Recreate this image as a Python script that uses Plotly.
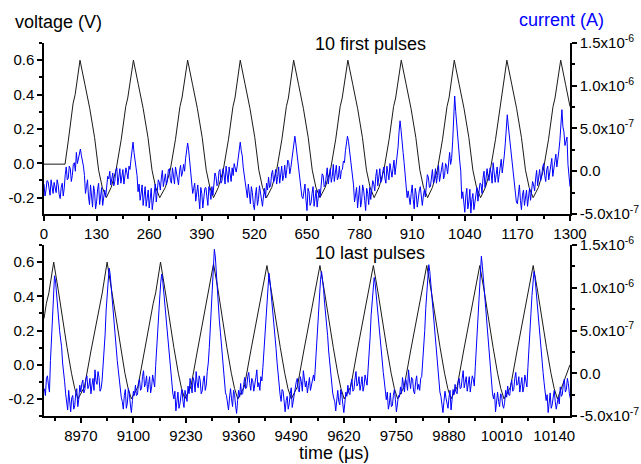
import numpy as np
import plotly.graph_objects as go

# ---------------- data ----------------
# Voltage, first 10 pulses: vertices (time in us, volts)
top_v_time = [0, 52, 60, 72, 77, 89,
              101, 113, 125, 135, 144, 154,
              166, 178, 191, 202, 207, 221,
              233, 245, 257, 267, 276, 286,
              300, 312, 325, 336, 341, 355,
              367, 379, 391, 401, 410, 419,
              431, 443, 456, 467, 472, 485,
              497, 509, 521, 531, 540, 550,
              563, 575, 588, 599, 604, 617,
              629, 641, 653, 663, 672, 682,
              695, 708, 721, 732, 737, 751,
              763, 775, 787, 797, 806, 816,
              828, 840, 853, 864, 869, 883,
              895, 907, 919, 929, 938, 948,
              960, 972, 985, 996, 1001, 1014,
              1026, 1038, 1050, 1060, 1069, 1079,
              1091, 1103, 1116, 1127, 1131, 1144,
              1156, 1168, 1180, 1190, 1199, 1209,
              1222, 1234, 1247, 1258, 1263, 1277,
              1289, 1300]
top_v_volt = [-0.005, -0.005, 0.13, 0.35, 0.40, 0.60,
              0.46, 0.32, 0.15, -0.04, -0.14, -0.20,
              -0.14, -0.04, 0.14, 0.33, 0.38, 0.60,
              0.46, 0.32, 0.15, -0.04, -0.14, -0.20,
              -0.14, -0.04, 0.14, 0.33, 0.38, 0.60,
              0.46, 0.32, 0.15, -0.04, -0.14, -0.20,
              -0.14, -0.04, 0.14, 0.33, 0.38, 0.60,
              0.46, 0.32, 0.15, -0.04, -0.14, -0.20,
              -0.14, -0.04, 0.14, 0.33, 0.38, 0.60,
              0.46, 0.32, 0.15, -0.04, -0.14, -0.20,
              -0.14, -0.04, 0.14, 0.33, 0.38, 0.60,
              0.46, 0.32, 0.15, -0.04, -0.14, -0.20,
              -0.14, -0.04, 0.14, 0.33, 0.38, 0.60,
              0.46, 0.32, 0.15, -0.04, -0.14, -0.20,
              -0.14, -0.04, 0.14, 0.33, 0.38, 0.60,
              0.46, 0.32, 0.15, -0.04, -0.14, -0.20,
              -0.14, -0.04, 0.14, 0.33, 0.38, 0.60,
              0.46, 0.32, 0.15, -0.04, -0.14, -0.20,
              -0.14, -0.04, 0.14, 0.33, 0.38, 0.60,
              0.46, 0.33]

# Voltage, last 10 pulses
bot_v_time = [8879, 8885, 8891, 8903,
              8914, 8926, 8936, 8947, 8955, 8963,
              8979, 8995, 9007, 9017, 9023, 9035,
              9046, 9058, 9068, 9079, 9087, 9095,
              9111, 9127, 9139, 9149, 9155, 9167,
              9178, 9190, 9200, 9211, 9219, 9227,
              9242, 9258, 9270, 9280, 9286, 9298,
              9309, 9321, 9331, 9342, 9350, 9358,
              9374, 9390, 9402, 9412, 9418, 9430,
              9441, 9453, 9463, 9474, 9482, 9490,
              9505, 9521, 9533, 9543, 9549, 9561,
              9572, 9584, 9594, 9605, 9613, 9621,
              9637, 9653, 9665, 9675, 9681, 9693,
              9704, 9716, 9726, 9737, 9745, 9753,
              9769, 9785, 9797, 9807, 9813, 9825,
              9836, 9848, 9858, 9869, 9877, 9885,
              9900, 9916, 9928, 9938, 9944, 9956,
              9967, 9979, 9989, 10000, 10008, 10016,
              10032, 10048, 10060, 10070, 10076, 10088,
              10099, 10111, 10121, 10132, 10140, 10148,
              10164, 10179]
bot_v_volt = [0.27, 0.36, 0.42, 0.60,
              0.44, 0.24, 0.10, -0.05, -0.14, -0.20,
              -0.13, 0.08, 0.23, 0.36, 0.42, 0.60,
              0.44, 0.24, 0.10, -0.05, -0.14, -0.20,
              -0.13, 0.08, 0.23, 0.36, 0.42, 0.60,
              0.44, 0.24, 0.10, -0.05, -0.14, -0.20,
              -0.13, 0.08, 0.23, 0.36, 0.42, 0.59,
              0.44, 0.24, 0.10, -0.05, -0.14, -0.20,
              -0.13, 0.08, 0.23, 0.36, 0.42, 0.58,
              0.43, 0.24, 0.10, -0.05, -0.14, -0.20,
              -0.13, 0.08, 0.23, 0.36, 0.42, 0.58,
              0.43, 0.24, 0.10, -0.05, -0.14, -0.20,
              -0.13, 0.08, 0.23, 0.36, 0.42, 0.58,
              0.43, 0.24, 0.10, -0.05, -0.14, -0.20,
              -0.13, 0.08, 0.23, 0.36, 0.42, 0.58,
              0.43, 0.24, 0.10, -0.05, -0.14, -0.20,
              -0.13, 0.08, 0.23, 0.36, 0.42, 0.58,
              0.43, 0.24, 0.10, -0.05, -0.14, -0.20,
              -0.13, 0.08, 0.23, 0.36, 0.42, 0.58,
              0.43, 0.24, 0.10, -0.05, -0.14, -0.20,
              -0.10, 0.00]

# Current, first 10 pulses (units of 1e-7 A).
# Samples every 5 us from t = 0 ...
top_i_t0 = 0
top_i_dt = 5
top_current_e7 = [
    -1.5, -2.2, -1.2, -2.8, -1.8, -1.3, -2.5, -1.6, -3.2, -1.4, -2.0,
    0.5, -0.8, 0.3, -0.5, 1.0, 2.2, 1.5,
    2.6,
    1.2, -0.5, -1.8,
    -3.0, -1.6, -4.2, -2.4, -3.6, -1.4, -2.8, -4.0,
    -2.2, -1.7,
    -0.9, -1.6, -0.2, -1.2, 0.4, -0.8, -1.4, 0.2, -0.6,
    -0.2, 0.6, 1.4,
    3.4,
    1.5, -0.5, -1.5,
    -2.6, -4.0, -1.8, -3.2, -4.3, -2.0, -3.5, -1.5,
    -2.4, -1.3,
    -0.8, -1.8, -0.3, -1.0, 0.3, -1.4, -0.5, 0.5, -0.9,
    0.0, -0.6, 0.8, 1.5,
    3.3,
    1.2, -0.8, -2.0,
    -3.5, -1.6, -4.4, -2.6, -3.1, -1.9, -4.0, -2.3,
    -1.8, -1.2,
    -0.6, -1.5, 0.2, -1.1, -0.4, 0.6, -1.3, -0.2, 0.4,
    0.9, -0.1, 1.6,
    3.4,
    1.8, -0.6, -2.2,
    -1.5, -3.8, -2.5, -4.5, -1.9, -3.3, -2.7, -4.1,
    -2.0, -1.4,
    -0.7, -1.7, 0.1, -0.9, -1.5, 0.5, -0.4, -1.1, 0.7,
    0.2, 1.0, 0.4, 2.0,
    4.1,
    2.2, 0.0, -1.8,
    -3.2, -1.5, -4.6, -2.4, -3.7, -1.8, -2.9, -4.2,
    -2.1, -1.3,
    -0.5, -1.6, 0.4, -0.8, -1.3, 0.8, -0.2, -1.0, 0.6,
    0.1, 1.2, 2.4,
    4.1,
    2.5, 0.2, -1.6,
    -2.8, -4.3, -1.7, -3.5, -2.2, -4.6, -2.6, -1.9,
    -2.4, -1.5,
    -0.6, -1.7, 0.3, -1.0, 0.5, -1.4, -0.1, 0.9, -0.7,
    1.3, 0.5, 2.8,
    5.9,
    3.8, 1.0, -1.2,
    -2.3, -3.9, -1.6, -4.4, -2.7, -3.1, -1.8, -4.0,
    -2.2, -1.5,
    -0.7, -1.8, 0.2, -0.9, -1.4, 0.7, -0.3, 1.0, -0.5,
    0.6, 1.6, 0.8, 3.5,
    8.8,
    5.5, 2.5, 0.0,
    -2.4, -4.8, -2.0, -3.6, -4.9, -2.6, -3.4, -1.9,
    -2.6, -1.5,
    -0.8, -1.9, 0.3, -1.1, -0.2, 1.0, -1.3, 0.5, -0.4,
    1.4, 0.6, 3.2,
    6.6,
    4.2, 1.8, -0.8,
    -2.5, -3.8, -1.6, -4.5, -2.2, -3.3, -4.1, -2.0,
    -2.4, -1.6,
    -0.9, -1.7, 0.2, -0.6, 0.9, -1.2, 0.6, -0.3, 1.5,
    0.4, 2.0, 1.2, 3.6,
    7.2,
    4.6, 3.5, 0.8, -1.8,
]
# ... and the samples lying half-way between them (t = 2.5, 7.5, ...)
top_current_mid_e7 = [
    -2.9, -1.1, -2.4, -1.0, -2.6, -1.9, -1.0, -2.7, -1.9, -2.9,
    -0.4,
    -1.0, 0.6, -1.2, 0.8, 0.0, 0.9, 2.4,
    1.8,
    0.6, -2.6, -1.0,
    -3.9, -2.9, -1.7, -4.4, -2.1, -3.9, -1.9,
    -2.8,
    -3.0, -0.6,
    0.0, -0.5, -1.7, 0.1, -1.6, 0.3, -0.3, -1.5,
    0.4,
    -0.9, 0.2,
    2.5,
    2.2,
    0.4, -2.4,
    -3.4,
    -1.6, -3.0, -4.1, -2.2, -2.9, -4.5, -2.6,
    -3.6,
    -1.0, -2.2,
    0.1, -0.7, -1.6, 0.2, -1.1, 0.4, -1.5, -0.2,
    -1.6,
    0.7, -0.1, 0.0,
    2.4,
    2.5,
    0.0, -2.6,
    -1.4,
    -2.6, -3.1, -1.9, -4.3, -2.0, -3.4, -1.8,
    -3.3,
    -2.8, -0.2,
    -1.7, 0.0, -1.4, 0.3, -1.5, -0.6, 0.5, -1.2,
    -0.5,
    0.1, 0.6,
    2.7,
    2.4,
    0.4, -1.6,
    -3.1,
    -2.9, -1.8, -3.9, -2.8, -4.0, -1.7, -3.3,
    -2.9,
    -3.1, -2.2,
    -1.9, -0.3, -1.3, 0.2, -0.6, -1.4, 0.6, -0.5,
    -0.8,
    1.3, -0.3, 1.2,
    3.0,
    3.2,
    0.9, -1.0,
    -3.0,
    -2.1, -3.4, -2.0, -4.0, -2.6, -4.1, -2.2,
    -2.9,
    -3.0, -0.3,
    -1.8, -0.4, -1.5, 0.3, -0.6, -1.2, 0.7, -0.7,
    -0.9,
    0.2, 1.0,
    3.4,
    3.5,
    0.8, -0.8,
    -3.6,
    -1.9, -3.0, -4.2, -1.6, -3.4, -2.0, -3.9,
    -3.3,
    -1.1, -2.3,
    0.2, -0.6, -1.3, 0.0, -0.8, 0.6, -1.0, -0.2,
    0.3,
    -0.4, 1.5,
    4.6,
    4.8,
    2.2, -0.4,
    -3.1,
    -3.2, -2.6, -3.3, -2.0, -4.2, -2.3, -3.0,
    -2.9,
    -3.0, -0.4,
    -1.9, -0.5, -1.4, 0.3, -0.5, -1.2, 0.5, -0.9,
    0.9,
    -0.3, 2.2, 1.5,
    6.5,
    7.0,
    3.2, 1.2,
    -3.2,
    -3.5, -2.9, -4.4, -2.1, -3.3, -4.5, -2.4,
    -3.5,
    -1.4, -2.6,
    0.0, -1.0, -0.7, 0.4, -1.4, -0.1, -0.4, -1.3,
    0.6,
    -0.2, 1.8,
    5.0,
    5.3,
    2.9, 0.5,
    -1.6,
    -3.6, -2.5, -3.4, -2.8, -4.0, -2.2, -3.2,
    -3.4,
    -1.2, -2.3,
    0.1, -0.6, -1.1, 0.5, -0.5, 0.2, -1.0, 0.4,
    -0.6,
    1.1, 0.5, 2.4,
    5.8,
    5.2,
    3.0, 4.0, -0.9,
]

# Current, last 10 pulses (units of 1e-7 A).
# Samples every 5 us from t = 8880 ...
bot_i_t0 = 8880
bot_i_dt = 5
bot_current_e7 = [
    -1.8, -0.6, -1.4, 1.5, 6.5,
    11.4,
    9.2, 6.8, 4.0, 1.2,
    -1.0,
    -3.2, -2.0, -4.5, -2.6, -3.8, -1.8, -3.0,
    -2.2, -0.8, -1.9, -0.3, -1.5, -2.4, -0.6, 0.4, -1.3, -0.5, -1.8,
    0.6, 4.5, 9.2,
    12.3,
    10.0, 7.0, 4.3, 1.5,
    -0.8,
    -2.8, -4.2, -1.9, -3.5, -2.4, -4.6, -2.1,
    -1.4, -2.5, -0.7, -1.8, 0.3, -1.2, -2.2, -0.4, -1.6, -0.9,
    0.9, 4.8, 8.8,
    11.6,
    9.5, 6.6, 4.1, 1.0,
    -1.2,
    -3.0, -4.4, -2.2, -3.6, -1.9, -4.0, -2.7,
    -1.5, -0.6, -2.3, -1.0, 0.2, -1.7, -0.8, -2.1, -0.3, -1.4,
    1.2, 5.5, 10.5,
    14.5,
    11.5, 8.0, 4.8, 1.6,
    -1.0,
    -2.6, -4.3, -1.8, -3.9, -2.5, -4.7, -2.0,
    -1.2, -2.4, -0.5, -1.6, 0.1, -2.0, -0.9, -1.5, 0.4, -1.1, -0.4,
    0.7, 4.6, 9.0,
    11.7,
    9.6, 6.9, 4.2, 1.3,
    -1.1,
    -3.3, -2.1, -4.5, -2.7, -3.6, -1.7, -3.1,
    -1.8, -0.6, -2.2, -1.0, 0.3, -1.6, -2.3, -0.5, -1.3, -0.2,
    1.0, 5.2, 9.6,
    11.9,
    9.8, 7.1, 4.4, 1.1,
    -1.3,
    -2.9, -4.4, -2.0, -3.7, -2.5, -4.6, -2.2,
    -1.4, -2.5, -0.7, -1.9, 0.2, -1.2, -2.0, -0.4, -1.5, -0.8,
    0.5, 4.2, 8.7,
    11.2,
    9.1, 6.5, 3.9, 1.2,
    -0.9,
    -3.1, -4.2, -2.3, -3.8, -1.9, -4.5, -2.6,
    -1.6, -0.5, -2.2, -1.1, 0.4, -1.8, -0.7, -2.4, -0.3, -1.3, -0.6,
    1.1, 5.0, 9.8,
    12.7,
    10.4, 7.4, 4.6, 1.5,
    -1.0,
    -2.7, -4.6, -2.1, -3.5, -2.8, -4.3, -1.9,
    -1.3, -2.4, -0.6, -1.7, 0.3, -1.1, -2.1, -0.4, -1.5, -0.7,
    0.8, 5.3, 10.2,
    13.7,
    11.0, 7.8, 4.7, 1.4,
    -1.2,
    -3.0, -4.5, -2.2, -3.9, -2.6, -4.1, -2.0,
    -1.5, -2.6, -0.8, -1.9, 0.1, -1.3, -2.2, -0.5, -1.6, -0.9,
    0.7, 4.6, 9.1,
    11.9,
    9.7, 6.8, 4.2, 1.2,
    -1.1,
    -3.2, -4.6, -2.3, -3.7, -2.0, -4.2, -2.8,
    -1.6, -2.5, -0.7, -1.9, -1.2, -3.0,
]
# ... and the samples lying half-way between them (t = 8882.5, 8887.5, ...)
bot_current_mid_e7 = [
    -2.6, -0.3, -2.2, 3.8, 9.5,
    10.8,
    8.4, 5.0, 3.1, -0.4,
    -2.4,
    -4.3, -3.1, -2.9, -4.2, -2.3, -3.9,
    -1.4,
    -1.2, -2.3, -0.7, -1.8, -0.6, -1.4, -2.0, -0.9, 0.2, -2.1,
    -0.9,
    2.2, 7.3,
    11.2,
    11.6,
    8.8, 5.3, 3.0,
    0.4,
    -2.2,
    -3.3, -2.6, -4.1, -1.8, -3.7, -3.2,
    -2.6,
    -2.6, -1.2, -2.0, -0.4, -1.6, -0.3, -1.3, -2.3, -0.2,
    -1.6,
    2.6, 7.0,
    10.6,
    10.8,
    8.4, 5.0, 2.8,
    0.2,
    -2.4,
    -2.1, -3.5, -4.1, -2.6, -3.3, -2.0,
    -3.3,
    -2.4, -1.7, -0.5, -2.2, -1.1, -0.3, -2.4, -0.9, -2.0,
    0.2,
    3.0, 8.3,
    13.0,
    13.6,
    9.9, 6.1, 3.4,
    0.0,
    -2.3,
    -3.4, -2.9, -3.0, -2.0, -3.8, -3.2,
    -2.8,
    -2.5, -1.3, -1.8, -0.4, -1.2, -0.6, -2.1, -0.5, -1.6, -2.0,
    -0.9,
    2.5, 7.1,
    10.9,
    10.8,
    8.0, 5.2, 2.9,
    -0.2,
    -2.5,
    -1.9, -3.6, -3.2, -4.2, -2.4, -4.0,
    -2.2,
    -1.0, -1.9, -0.4, -2.1, -0.8, -0.9, -1.4, -2.0, -1.1,
    -0.9,
    2.8, 7.8,
    11.0,
    11.1,
    8.2, 5.5, 2.6,
    0.3,
    -2.3,
    -3.3, -2.8, -3.3, -1.9, -3.6, -3.5,
    -2.7,
    -2.3, -1.2, -2.1, -0.7, -1.5, -0.4, -1.3, -2.1, -0.2,
    -1.4,
    2.0, 6.8,
    10.3,
    10.5,
    7.6, 5.0, 2.8,
    0.1,
    -2.2,
    -2.2, -3.6, -3.9, -2.6, -3.1, -3.6,
    -2.8,
    -2.4, -1.4, -0.6, -2.0, -0.9, -0.5, -2.1, -1.0, -1.9, -2.0,
    -0.4,
    2.9, 7.6,
    11.8,
    11.9,
    8.8, 6.0, 3.2,
    0.0,
    -2.2,
    -3.6, -3.3, -2.9, -4.1, -2.0, -3.4,
    -2.5,
    -2.2, -1.0, -1.8, -0.6, -1.7, -0.4, -1.2, -2.2, -0.3,
    -1.5,
    3.0, 8.0,
    12.6,
    12.5,
    9.3, 6.2, 3.0,
    0.1,
    -2.4,
    -2.3, -3.6, -3.3, -2.4, -3.7, -3.4,
    -2.8,
    -2.5, -1.4, -2.1, -0.6, -1.4, -0.4, -1.3, -2.2, -0.2,
    -1.6,
    2.4, 7.0,
    11.0,
    11.2,
    8.0, 5.4, 2.7,
    0.1,
    -2.3,
    -2.5, -3.5, -4.1, -2.8, -3.3, -3.5,
    -3.6,
    -2.7, -1.3, -2.2, -0.6, -2.4,
]

# Tick labels
top_x_ticks = [0, 130, 260, 390, 520, 650, 780, 910, 1040, 1170, 1300]
top_x_minor = [65, 195, 325, 455, 585, 715, 845, 975, 1105, 1235]
bot_x_ticks = [8970, 9100, 9230, 9360, 9490, 9620, 9750, 9880, 10010, 10140]
bot_x_minor = [8905, 9035, 9165, 9295, 9425, 9555, 9685, 9815, 9945, 10075]
volt_ticks = [-0.2, 0.0, 0.2, 0.4, 0.6]
volt_labels = ["-0.2", "0.0", "0.2", "0.4", "0.6"]
volt_minor = [-0.3, -0.1, 0.1, 0.3, 0.5, 0.7]
curr_ticks = [-5e-7, 0.0, 5e-7, 1e-6, 1.5e-6]
curr_labels = ["-5.0x10<sup>-7</sup>", "0.0", "5.0x10<sup>-7</sup>",
               "1.0x10<sup>-6</sup>", "1.5x10<sup>-6</sup>"]
curr_minor = [-2.5e-7, 2.5e-7, 7.5e-7, 1.25e-6]


# ---------------- build the sampled series ----------------
def merged_series(t0, dt, main_vals, mid_vals):
    t_main = t0 + dt * np.arange(len(main_vals))
    t_mid = t0 + dt / 2 + dt * np.arange(len(mid_vals))
    t = np.concatenate([t_main, t_mid])
    v = np.concatenate([np.array(main_vals), np.array(mid_vals)]) * 1e-7
    order = np.argsort(t, kind="stable")
    return t[order], v[order]


top_i_time, top_current = merged_series(top_i_t0, top_i_dt, top_current_e7, top_current_mid_e7)
bot_i_time, bot_current = merged_series(bot_i_t0, bot_i_dt, bot_current_e7, bot_current_mid_e7)

FONT = "Liberation Sans, Arial, sans-serif"
VCOL = "#1a1a1a"
ICOL = "#0000ff"

fig = go.Figure()
fig.add_trace(go.Scatter(x=top_v_time, y=top_v_volt, xaxis="x", yaxis="y",
                         mode="lines", line=dict(color=VCOL, width=1)))
fig.add_trace(go.Scatter(x=top_i_time, y=top_current, xaxis="x", yaxis="y2",
                         mode="lines", line=dict(color=ICOL, width=1)))
fig.add_trace(go.Scatter(x=bot_v_time, y=bot_v_volt, xaxis="x2", yaxis="y3",
                         mode="lines", line=dict(color=VCOL, width=1)))
fig.add_trace(go.Scatter(x=bot_i_time, y=bot_current, xaxis="x2", yaxis="y4",
                         mode="lines", line=dict(color=ICOL, width=1)))

tickfont = dict(family=FONT, size=15, color="black")
common = dict(showline=True, linecolor="black", linewidth=1.5, ticks="outside",
              ticklen=5, tickwidth=1.5, tickcolor="black", showgrid=False,
              zeroline=False, tickfont=tickfont, tickmode="array", automargin=False)
minor_common = dict(ticks="outside", ticklen=3, tickwidth=1.5, tickcolor="black",
                    tickmode="array", showgrid=False)

fig.update_layout(
    width=641, height=464, autosize=False,
    margin=dict(l=44, r=71, t=43, b=48, pad=0),
    paper_bgcolor="white", plot_bgcolor="white",
    showlegend=False,
    font=dict(family=FONT, color="black"),
    xaxis=dict(domain=[0, 1], anchor="y", range=[0, 1300],
               tickvals=top_x_ticks, ticktext=[str(v) for v in top_x_ticks],
               minor=dict(tickvals=top_x_minor, **minor_common), **common),
    yaxis=dict(domain=[0.5416, 1], anchor="x", range=[-0.295, 0.70],
               tickvals=volt_ticks, ticktext=volt_labels,
               minor=dict(tickvals=volt_minor, **minor_common), **common),
    yaxis2=dict(overlaying="y", anchor="x", side="right", range=[-5e-7, 1.5e-6],
                tickvals=curr_ticks, ticktext=curr_labels,
                minor=dict(tickvals=curr_minor, **minor_common), **common),
    xaxis2=dict(domain=[0, 1], anchor="y3", range=[8879, 10179],
                tickvals=bot_x_ticks, ticktext=[str(v) for v in bot_x_ticks],
                minor=dict(tickvals=bot_x_minor, **minor_common), **common),
    yaxis3=dict(domain=[0, 0.4584], anchor="x2", range=[-0.30, 0.70],
                tickvals=volt_ticks, ticktext=volt_labels,
                minor=dict(tickvals=volt_minor, **minor_common), **common),
    yaxis4=dict(overlaying="y3", anchor="x2", side="right", range=[-5e-7, 1.5e-6],
                tickvals=curr_ticks, ticktext=curr_labels,
                minor=dict(tickvals=curr_minor, **minor_common), **common),
)

title_font = dict(family=FONT, size=18, color="black")
annos = [
    dict(text="voltage (V)", x=-0.0595, y=1.056, xanchor="left", yanchor="middle",
         font=title_font),
    dict(text="current (A)", x=0.8987, y=1.063, xanchor="left", yanchor="middle",
         font=dict(family=FONT, size=18, color=ICOL)),
    dict(text="10 first pulses", x=0.6207, y=0.9973, xanchor="center", yanchor="middle",
         font=title_font),
    dict(text="10 last pulses", x=0.62, y=0.437, xanchor="center", yanchor="middle",
         font=title_font),
    dict(text="time (\u03bcs)", x=0.551, y=-0.1, xanchor="center", yanchor="middle",
         font=title_font),
]
for a in annos:
    fig.add_annotation(xref="paper", yref="paper", showarrow=False, **a)

fig.write_html("out.html", config={"responsive": False, "displayModeBar": False},
               post_script="document.body.style.margin='0';document.body.style.overflow='hidden';")
